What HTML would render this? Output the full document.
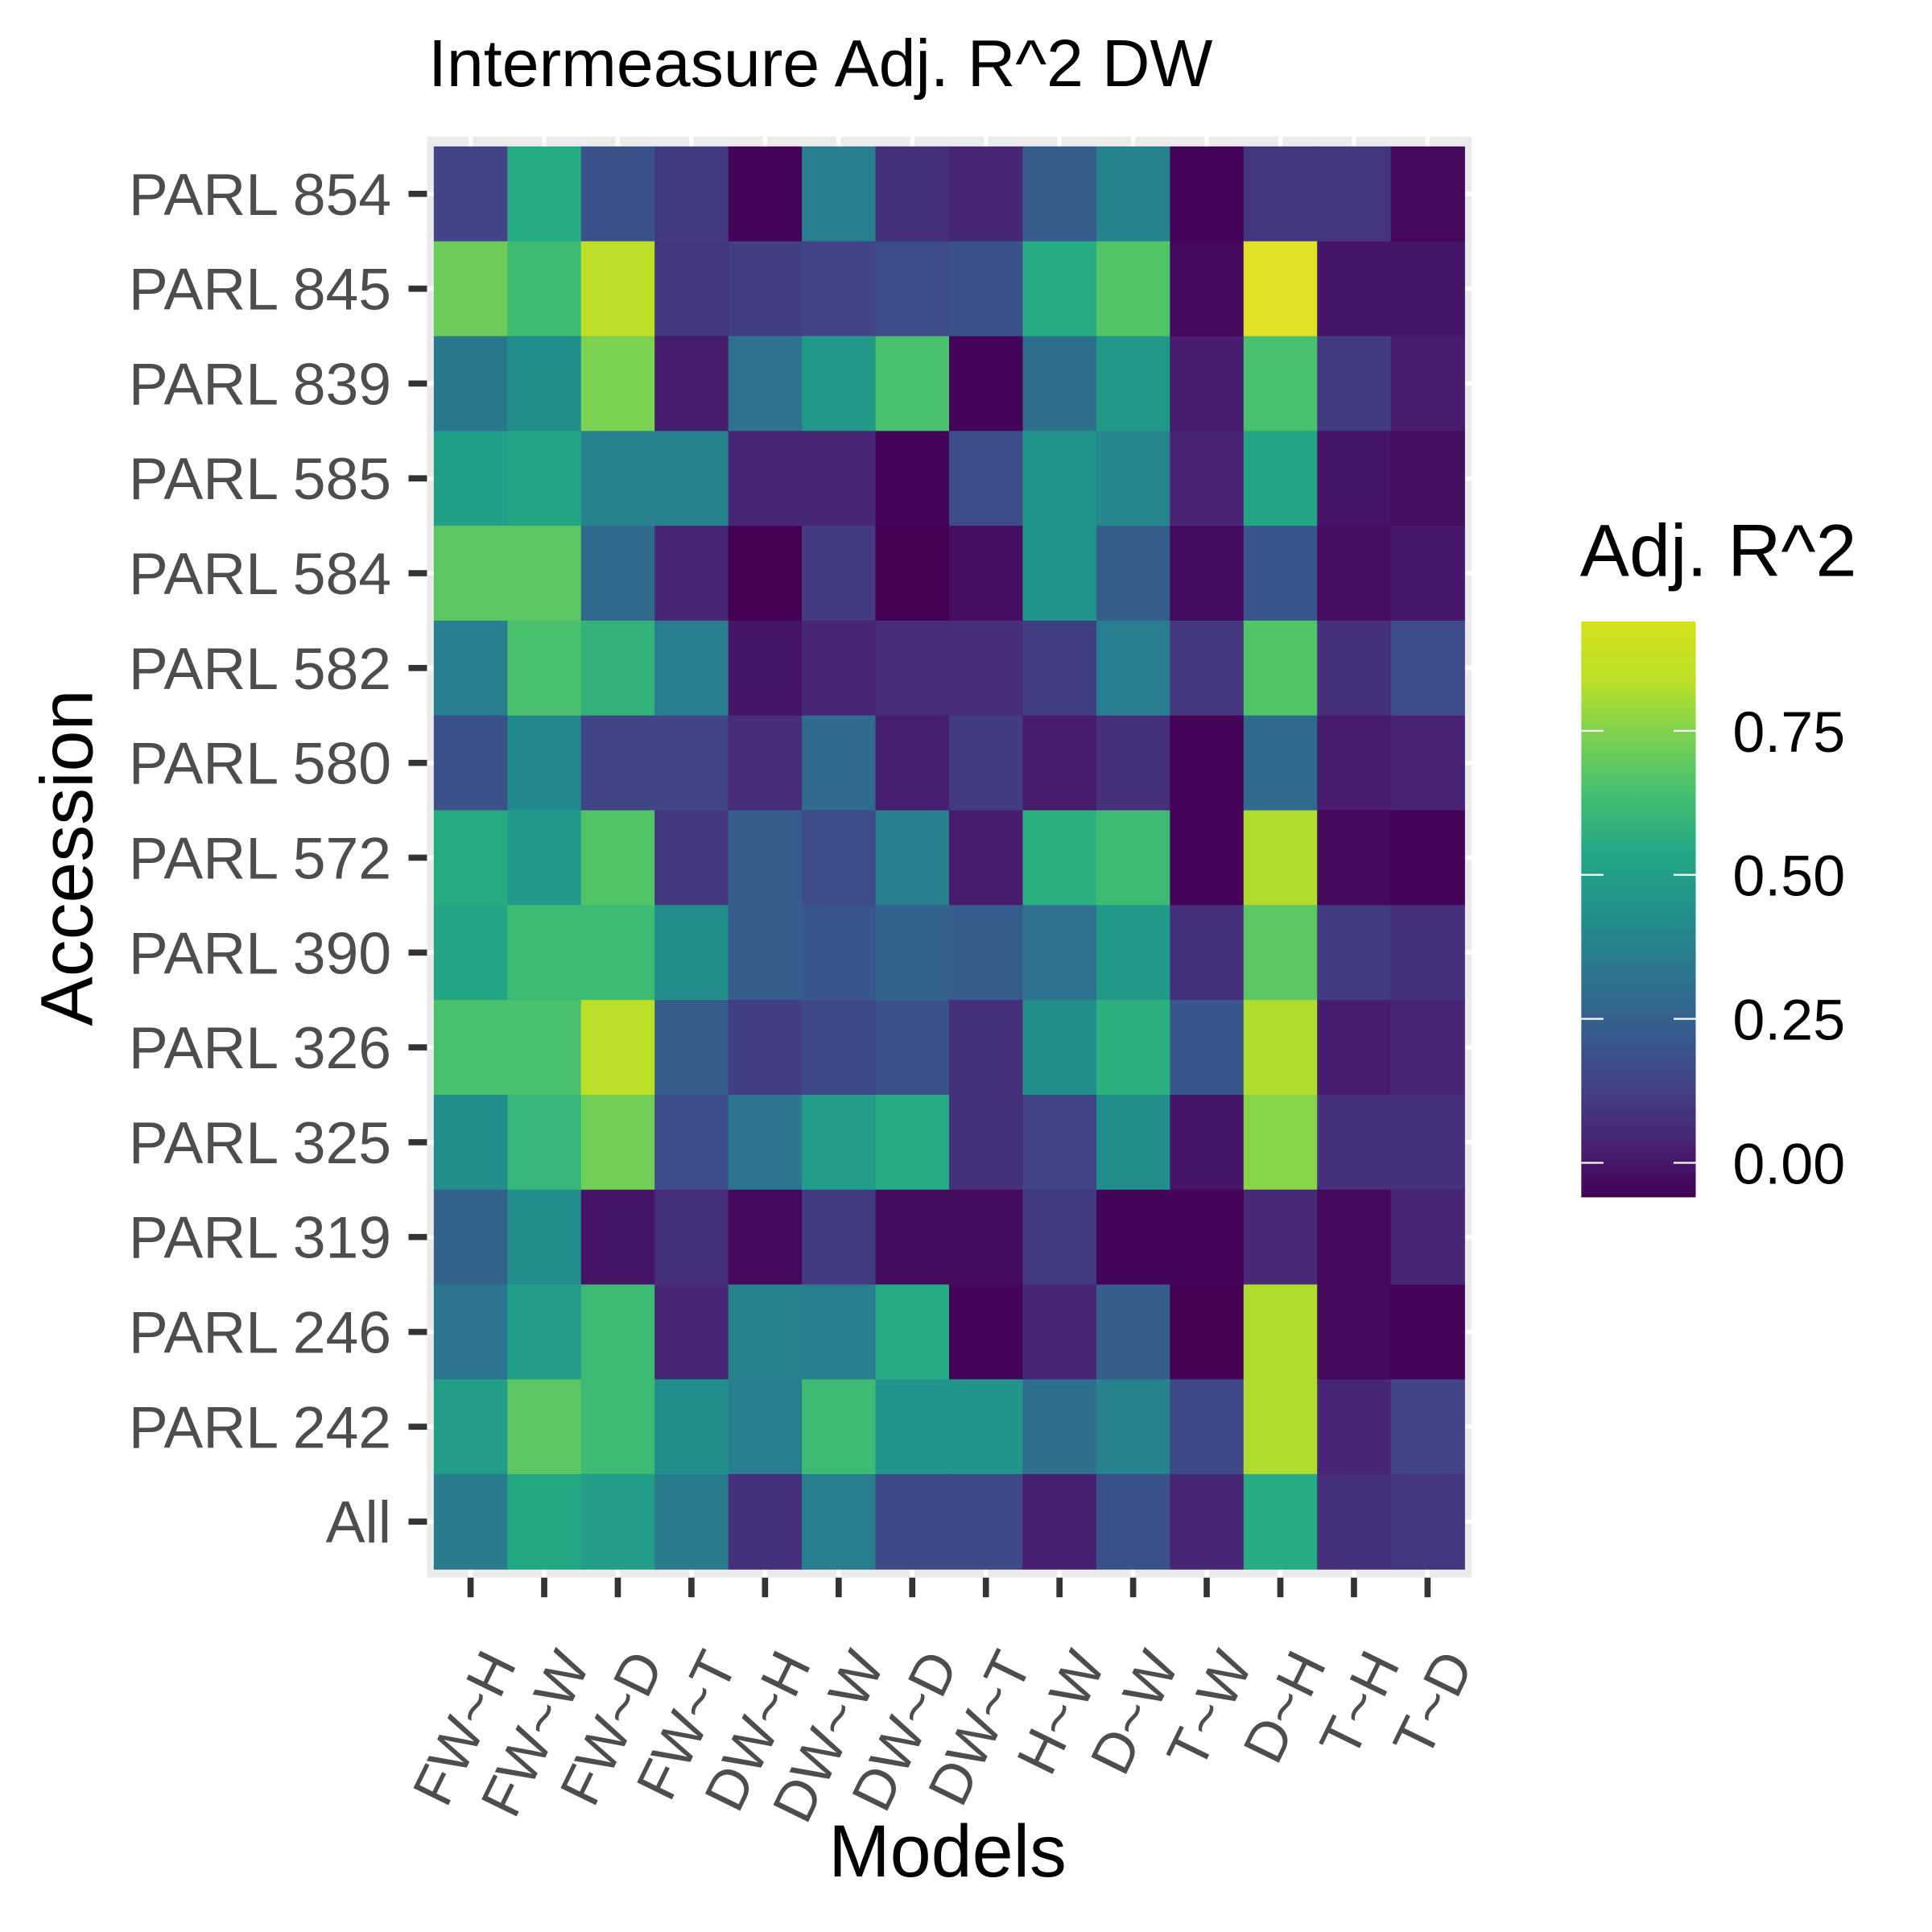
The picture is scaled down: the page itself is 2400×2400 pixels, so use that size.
<!DOCTYPE html>
<html><head><meta charset="utf-8"><style>html,body{margin:0;padding:0;background:#fff}svg{display:block}</style></head>
<body>
<svg id="chart" width="2400" height="2400" viewBox="0 0 1570 1570" xmlns="http://www.w3.org/2000/svg" font-family="Liberation Sans, Arial, sans-serif">
<defs>
<linearGradient id="vgrad" x1="0" y1="1" x2="0" y2="0">
<stop offset="0" stop-color="#440154"/><stop offset="0.1" stop-color="#482475"/><stop offset="0.2" stop-color="#414487"/><stop offset="0.3" stop-color="#355f8d"/><stop offset="0.4" stop-color="#2a788e"/><stop offset="0.5" stop-color="#21918c"/><stop offset="0.6" stop-color="#22a884"/><stop offset="0.7" stop-color="#44bf70"/><stop offset="0.8" stop-color="#7ad151"/><stop offset="0.9" stop-color="#bddf26"/><stop offset="1" stop-color="#d4e21a"/>
</linearGradient>
</defs>
<text x="348" y="70" font-size="54" fill="#000">Intermeasure Adj. R^2 DW</text>
<rect x="347" y="111" width="849" height="1171" fill="#ebebeb"/>
<g id="grid"></g>
<g id="cells"></g>
<g id="yaxis"></g>
<g id="xaxis"></g>
<text transform="translate(75,697) rotate(-90)" text-anchor="middle" font-size="60" fill="#000">Accession</text>
<text x="770" y="1525" text-anchor="middle" font-size="60" fill="#000">Models</text>
<g>
<text x="1284" y="468" font-size="60" fill="#000">Adj. R^2</text>
<rect x="1285" y="505" width="93" height="468" fill="url(#vgrad)"/>
<g id="legend-ticks"></g>
</g>
</svg>
<script>
const models = ["FW~H","FW~W","FW~D","FW~T","DW~H","DW~W","DW~D","DW~T","H~W","D~W","T~W","D~H","T~H","T~D"];
const accessions = ["PARL 854","PARL 845","PARL 839","PARL 585","PARL 584","PARL 582","PARL 580","PARL 572","PARL 390","PARL 326","PARL 325","PARL 319","PARL 246","PARL 242","All"];
const r854 = [0.15,0.58,0.2,0.12,-0.05,0.38,0.08,0.05,0.25,0.4,-0.05,0.1,0.1,-0.04];
const r845 = [0.75,0.65,0.88,0.1,0.13,0.15,0.18,0.2,0.58,0.7,-0.04,0.94,0.0,0.0];
const r839 = [0.36,0.45,0.78,0.02,0.33,0.5,0.68,-0.05,0.32,0.5,0.02,0.68,0.12,0.02];
const r585 = [0.53,0.55,0.4,0.4,0.05,0.05,-0.05,0.18,0.48,0.42,0.04,0.55,0.0,-0.02];
const r584 = [0.72,0.72,0.3,0.05,-0.06,0.12,-0.06,-0.02,0.48,0.25,-0.03,0.22,-0.02,0.01];
const r582 = [0.38,0.68,0.62,0.38,0.0,0.05,0.07,0.07,0.13,0.38,0.1,0.7,0.08,0.18];
const r580 = [0.2,0.43,0.15,0.15,0.07,0.3,0.03,0.12,0.02,0.08,-0.05,0.3,0.02,0.04];
const r572 = [0.58,0.5,0.7,0.1,0.25,0.18,0.38,0.02,0.6,0.65,-0.05,0.86,-0.04,-0.05];
const r390 = [0.55,0.65,0.65,0.45,0.25,0.22,0.27,0.25,0.33,0.5,0.08,0.72,0.12,0.08];
const r326 = [0.68,0.68,0.88,0.25,0.13,0.17,0.2,0.08,0.45,0.6,0.22,0.86,0.02,0.05];
const r325 = [0.45,0.63,0.76,0.18,0.35,0.52,0.58,0.08,0.15,0.45,0.0,0.8,0.08,0.08];
const r319 = [0.27,0.45,0.0,0.08,-0.04,0.12,-0.03,-0.03,0.12,-0.05,-0.05,0.06,-0.04,0.05];
const r246 = [0.35,0.52,0.65,0.05,0.4,0.38,0.58,-0.05,0.05,0.25,-0.06,0.86,-0.04,-0.05];
const r242 = [0.52,0.72,0.65,0.45,0.38,0.65,0.48,0.48,0.32,0.4,0.17,0.86,0.05,0.15];
const rAll = [0.37,0.57,0.52,0.37,0.08,0.38,0.17,0.17,0.03,0.2,0.05,0.58,0.08,0.1];
const values = [r854,r845,r839,r585,r584,r582,r580,r572,r390,r326,r325,r319,r246,r242,rAll];
const legendTicks = [0.0,0.25,0.5,0.75];
const legendLabels = ["0.00","0.25","0.50","0.75"];

const NS = "http://www.w3.org/2000/svg";
const vmin = -0.06, vmax = 0.94;
const px0 = 352.5, px1 = 1190, py0 = 119, py1 = 1275;
const cw = (px1 - px0) / models.length, ch = (py1 - py0) / accessions.length;
const xCenter = i => px0 + cw * (i + 0.5);
const yCenter = j => py0 + ch * (j + 0.5);
const legendY = v => 973 - (v - vmin) / (vmax - vmin) * 468;
const vir = ["#440154","#482475","#414487","#355f8d","#2a788e","#21918c","#22a884","#44bf70","#7ad151","#bddf26","#fde725"];
function hex(c){return [1,3,5].map(k=>parseInt(c.substr(k,2),16));}
function colorFor(v){
  let t = Math.max(0, Math.min(1, (v - vmin) / (vmax - vmin)));
  t = t * 0.955;
  const p = t * (vir.length - 1), i = Math.min(Math.floor(p), vir.length - 2), f = p - i;
  const a = hex(vir[i]), b = hex(vir[i+1]);
  return "rgb(" + a.map((x,k)=>Math.round(x + (b[k]-x)*f)).join(",") + ")";
}
function mk(tag, attrs){const e=document.createElementNS(NS,tag);for(const k in attrs)e.setAttribute(k,attrs[k]);return e;}

const grid = document.getElementById("grid");
models.forEach((m, i) => {
  const g = mk("line", {x1: xCenter(i), x2: xCenter(i), y1: 111, y2: 1282, stroke: "#fff", "stroke-width": 3.5});
  
  
  grid.appendChild(g);
});
accessions.forEach((a, j) => {
  const g = mk("line", {x1: 347, x2: 1196, y1: yCenter(j), y2: yCenter(j), stroke: "#fff", "stroke-width": 3.5});
  
  
  grid.appendChild(g);
});

const cells = document.getElementById("cells");
values.forEach((row, j) => {
  row.forEach((v, i) => {
    const r = mk("rect", {x: xCenter(i) - cw/2, y: yCenter(j) - ch/2, width: cw + 0.5, height: ch + 0.5, fill: colorFor(v)});
    
    
    cells.appendChild(r);
  });
});

const yaxis = document.getElementById("yaxis");
accessions.forEach((a, j) => {
  const t = mk("line", {x1: 332, x2: 347, y1: yCenter(j), y2: yCenter(j), stroke: "#333", "stroke-width": 5});
  
  
  yaxis.appendChild(t);
  const l = mk("text", {x: 318, y: yCenter(j) + 17, "text-anchor": "end", "font-size": 48, fill: "#4d4d4d"});
  l.textContent = a;
  
  
  yaxis.appendChild(l);
});

const xaxis = document.getElementById("xaxis");
models.forEach((m, i) => {
  const x = xCenter(i);
  const t = mk("line", {x1: x, x2: x, y1: 1282, y2: 1298, stroke: "#333", "stroke-width": 5});
  
  
  xaxis.appendChild(t);
  const l = mk("text", {transform: "translate(" + (x + 38) + ",1352) rotate(-64)", "text-anchor": "end", "font-size": 46, fill: "#4d4d4d"});
  l.textContent = m;
  
  
  xaxis.appendChild(l);
});

const lt = document.getElementById("legend-ticks");
legendTicks.forEach((v, k) => {
  const y = legendY(v);
  const a = mk("line", {x1: 1285, x2: 1303, y1: y, y2: y, stroke: "#fff", "stroke-width": 1.5});
  
  
  lt.appendChild(a);
  const b = mk("line", {x1: 1360, x2: 1378, y1: y, y2: y, stroke: "#fff", "stroke-width": 1.5});
  
  
  lt.appendChild(b);
  const l = mk("text", {x: 1408, y: y + 17, "font-size": 47, fill: "#000"});
  l.textContent = legendLabels[k];
  
  
  lt.appendChild(l);
});
</script>
</body></html>
